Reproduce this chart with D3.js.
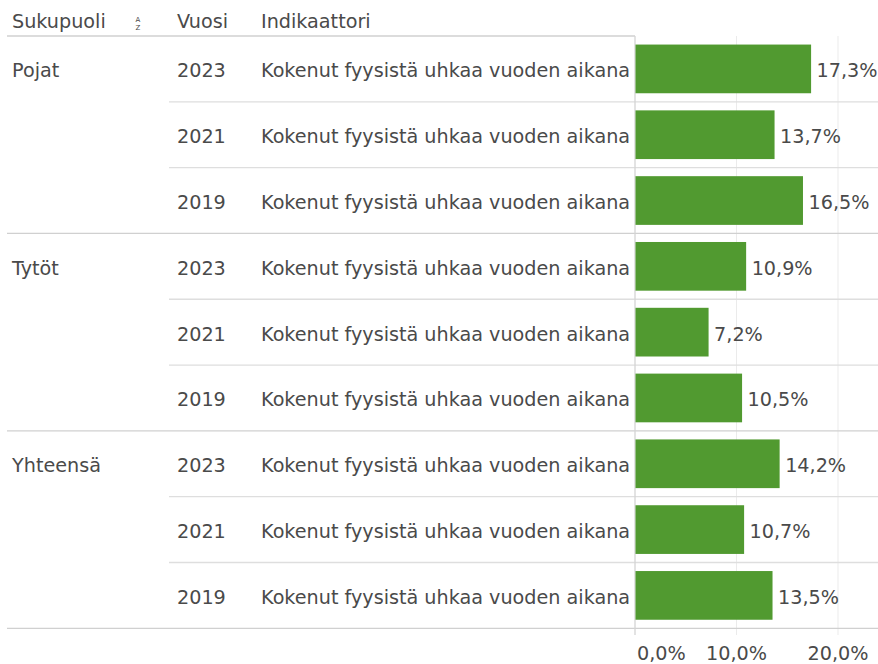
<!DOCTYPE html>
<html><head><meta charset="utf-8">
<script src="https://cdn.jsdelivr.net/npm/d3@7"></script>
<style>body{margin:0;background:#fff}svg{display:block}text{font-family:"DejaVu Sans",sans-serif;fill:#4a4a4a}</style>
</head><body>
<svg id="c" width="878" height="664"></svg>
<script>
const groups = ["Pojat","Tytöt","Yhteensä"];
const years = ["2023","2021","2019"];
const indicator = "Kokenut fyysistä uhkaa vuoden aikana";
const values = [[17.3,13.7,16.5],[10.9,7.2,10.5],[14.2,10.7,13.5]];
const ticks = [0,10,20];
const headers = ["Sukupuoli","Vuosi","Indikaattori"];

(function(){
const rows = [];
groups.forEach((g,gi)=>years.forEach((y,yi)=>rows.push({g,gi,y,yi,v:values[gi][yi]})));

const svg = d3.select("#c");
const W=878, yTop=36, yBot=628.3, x0=635, FS=19.2;
const y = d3.scaleBand().domain(d3.range(rows.length)).range([yTop,yBot]).paddingInner(0.26).paddingOuter(0.13);
const step = (yBot-yTop)/rows.length;
const x = d3.scaleLinear().domain([0,20]).range([x0,838]);
const fmt = v => d3.format(".1f")(v).replace(".",",")+"%";

svg.selectAll(".grid").data(ticks.slice(1)).enter().append("line")
  .attr("x1",d=>x(d)).attr("x2",d=>x(d)).attr("y1",yTop).attr("y2",635)
  .attr("stroke","#ebebeb").attr("stroke-width",1);

rows.forEach((r,i)=>{
  if(i===0) return;
  const yy = yTop+i*step;
  svg.append("line").attr("x1", r.yi===0?7:169).attr("x2",W).attr("y1",yy).attr("y2",yy)
    .attr("stroke", r.yi===0?"#d0d0d0":"#dedede").attr("stroke-width",1.3);
});
svg.append("line").attr("x1",7).attr("x2",x0).attr("y1",yTop).attr("y2",yTop).attr("stroke","#d0d0d0").attr("stroke-width",1.3);
svg.append("line").attr("x1",7).attr("x2",W).attr("y1",yBot).attr("y2",yBot).attr("stroke","#d0d0d0").attr("stroke-width",1.3);
svg.append("line").attr("x1",x0).attr("x2",x0).attr("y1",yTop).attr("y2",635).attr("stroke","#d4d4d4").attr("stroke-width",1.3);

svg.selectAll(".bar").data(rows).enter().append("rect")
  .attr("x",x(0)+0.5).attr("y",(d,i)=>y(i)).attr("height",y.bandwidth())
  .attr("width",d=>x(d.v)-x(0)).attr("fill","#519a30");

svg.selectAll(".val").data(rows).enter().append("text")
  .attr("x",d=>x(d.v)+6).attr("y",(d,i)=>yTop+(i+0.5)*step+8.5)
  .attr("font-size",FS).text(d=>fmt(d.v));

rows.forEach((r,i)=>{
  const cy = yTop+(i+0.5)*step+8.5;
  if(r.yi===0) svg.append("text").attr("x",12).attr("y",cy).attr("font-size",FS).text(r.g);
  svg.append("text").attr("x",177).attr("y",cy).attr("font-size",FS).text(r.y);
  svg.append("text").attr("x",261).attr("y",cy).attr("font-size",FS).text(indicator);
});

[12,177,261].forEach((hx,i)=>svg.append("text").attr("x",hx).attr("y",28).attr("font-size",FS).text(headers[i]));
svg.append("text").attr("x",138).attr("y",22).attr("font-size",7).attr("text-anchor","middle").text("A");
svg.append("text").attr("x",138).attr("y",30).attr("font-size",7).attr("text-anchor","middle").text("Z");

svg.selectAll(".tick").data(ticks).enter().append("text")
  .attr("x",d=>d===0?637:x(d)).attr("y",660)
  .attr("text-anchor",d=>d===0?"start":"middle").attr("font-size",FS).text(d=>fmt(d));
})();
</script>
</body></html>
